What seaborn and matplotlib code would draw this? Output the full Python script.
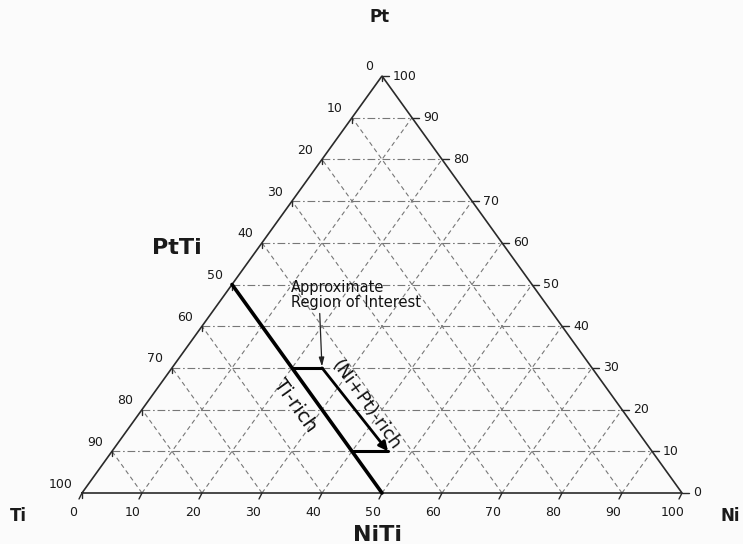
import numpy as np
import pandas as pd
import matplotlib
matplotlib.use("Agg")
import matplotlib.pyplot as plt
import seaborn as sns

# ---------------- data ----------------
vertex_labels = ["Ti", "Ni", "Pt"]
compound_labels = ["NiTi", "PtTi"]
tick_values = [0, 10, 20, 30, 40, 50, 60, 70, 80, 90, 100]
grid_values = [10, 20, 30, 40, 50, 60, 70, 80, 90]

# Ti-rich boundary (Ti = 50 at.%) : from PtTi to NiTi
ti_rich_ni = [0, 50]
ti_rich_pt = [50, 0]
# approximate region of interest
region_top_ni = [20, 25]
region_top_pt = [30, 30]
region_arrow_ni = [25, 46]
region_arrow_pt = [30, 10]
region_bottom_ni = [40, 46]
region_bottom_pt = [10, 10]

# ---------------- style ----------------
sns.set_theme(style="white")
plt.rcParams['font.family'] = ['DejaVu Sans']

W_PX, H_PX = 600.0, 417.0     # triangle size in pixels
sx, sy = 1.0 / W_PX, 1.0 / H_PX


def tern(ni, pt):
    ni = np.asarray(ni, dtype=float) / 100.0
    pt = np.asarray(pt, dtype=float) / 100.0
    return ni + pt / 2.0, pt


fig = plt.figure(figsize=(7.43, 5.44), dpi=100)
fig.patch.set_facecolor("#fbfbfb")
ax = fig.add_axes([0, 0, 1, 1])
ax.set_facecolor("#fbfbfb")
ax.set_xlim(-82 * sx, 661 * sx)
ax.set_ylim(-51 * sy, 493 * sy)
ax.axis("off")

grid_col = "#777777"
# horizontal (constant Pt) dash-dot lines
for p in grid_values:
    x, y = tern([0, 100 - p], [p, p])
    ax.plot(x, y, color=grid_col, lw=0.8, ls=(0, (7, 2.5, 1.5, 2.5)), zorder=1)
# constant Ni lines (parallel to left edge)
for n in grid_values:
    x, y = tern([n, n], [0, 100 - n])
    ax.plot(x, y, color=grid_col, lw=0.8, ls=(0, (4, 3)), zorder=1)
# constant Ti lines (parallel to right edge)
for t in grid_values:
    x, y = tern([100 - t, 0], [0, 100 - t])
    ax.plot(x, y, color=grid_col, lw=0.8, ls=(0, (4, 3)), zorder=1)

# triangle edges
x, y = tern([0, 100, 0, 0], [0, 0, 100, 0])
ax.plot(x, y, color="#2a2a2a", lw=1.2, zorder=2, solid_joinstyle="miter")

# ticks and tick labels
lab_kw = dict(fontsize=9, color="#1a1a1a")
for v in tick_values:
    # bottom axis: Ni content
    bx, by = tern(v, 0)
    ax.plot([bx, bx - 3 * sx], [by, by - 6 * sy], color="#2a2a2a", lw=1.0, zorder=2)
    ax.annotate(str(v), (bx, by), xytext=(-9, -19), textcoords="offset pixels",
                ha="center", va="center", **lab_kw)
    # right axis: Pt content
    rx, ry = tern(100 - v, v)
    ax.plot([rx, rx + 7 * sx], [ry, ry], color="#2a2a2a", lw=1.0, zorder=2)
    ax.annotate(str(v), (rx, ry), xytext=(11, 0), textcoords="offset pixels",
                ha="left", va="center", **lab_kw)
    # left axis: Ti content
    lx, ly = tern(0, 100 - v)
    ax.plot([lx, lx], [ly, ly - 5 * sy], color="#2a2a2a", lw=1.0, zorder=2)
    ax.annotate(str(v), (lx, ly), xytext=(-9, 9), textcoords="offset pixels",
                ha="right", va="center", **lab_kw)

# vertex labels
vx, vy = tern(0, 0)
ax.annotate(vertex_labels[0], (vx, vy), xytext=(-64, -23), textcoords="offset pixels",
            ha="center", va="center", fontsize=12, fontweight="bold", color="#1a1a1a")
vx, vy = tern(100, 0)
ax.annotate(vertex_labels[1], (vx, vy), xytext=(48, -23), textcoords="offset pixels",
            ha="center", va="center", fontsize=12, fontweight="bold", color="#1a1a1a")
vx, vy = tern(0, 100)
ax.annotate(vertex_labels[2], (vx, vy), xytext=(-2, 59), textcoords="offset pixels",
            ha="center", va="center", fontsize=12, fontweight="bold", color="#1a1a1a")

# compound labels
cx, cy = tern(50, 0)
ax.annotate(compound_labels[0], (cx, cy), xytext=(-4, -42), textcoords="offset pixels",
            ha="center", va="center", fontsize=16, fontweight="bold", color="#1a1a1a")
cx, cy = tern(0, 50)
ax.annotate(compound_labels[1], (cx, cy), xytext=(-55, 36), textcoords="offset pixels",
            ha="center", va="center", fontsize=16, fontweight="bold", color="#1a1a1a")

# heavy lines drawn through seaborn
def heavy(ni, pt, lw):
    x, y = tern(ni, pt)
    df = pd.DataFrame({"x": x, "y": y})
    sns.lineplot(data=df, x="x", y="y", sort=False, estimator=None, ax=ax,
                 color="black", lw=lw, zorder=4)

heavy(ti_rich_ni, ti_rich_pt, 2.6)
heavy(region_top_ni, region_top_pt, 2.2)
heavy(region_bottom_ni, region_bottom_pt, 2.2)

# arrow along (Ni+Pt)-rich side
ax0, ay0 = tern(region_arrow_ni[0], region_arrow_pt[0])
ax1, ay1 = tern(region_arrow_ni[1], region_arrow_pt[1])
ax.annotate("", xy=(ax1, ay1), xytext=(ax0, ay0),
            arrowprops=dict(arrowstyle="-|>,head_length=0.45,head_width=0.22",
                            color="black", lw=2.0, shrinkA=0, shrinkB=0), zorder=4)

# text labels along the lines
tx, ty = tern(ti_rich_ni, ti_rich_pt)
ax.annotate("Ti-rich", (tx.mean(), ty.mean()), xytext=(-12, -17), textcoords="offset pixels",
            rotation=-54.5, rotation_mode="anchor", ha="center", va="center",
            fontsize=14, color="#111111")
ax.annotate("(Ni+Pt)-rich", ((ax0 + ax1) / 2, (ay0 + ay1) / 2), xytext=(11, 5),
            textcoords="offset pixels", rotation=-54.5, rotation_mode="anchor",
            ha="center", va="center", fontsize=13, color="#111111")

# region of interest callout
px, py = tern(region_top_ni[1], region_top_pt[1])
ax.annotate("Approximate\nRegion of Interest", xy=(px, py), xytext=(-31, 73),
            textcoords="offset pixels", ha="left", va="center", multialignment="left",
            fontsize=10.5, color="#111111", linespacing=1.05,
            arrowprops=dict(arrowstyle="-|>,head_length=0.5,head_width=0.15",
                            color="#222222", lw=0.9, shrinkA=0, shrinkB=1,
                            relpos=(0.22, 0.0)), zorder=5)

fig.savefig("out.png", dpi=100, facecolor=fig.get_facecolor())
